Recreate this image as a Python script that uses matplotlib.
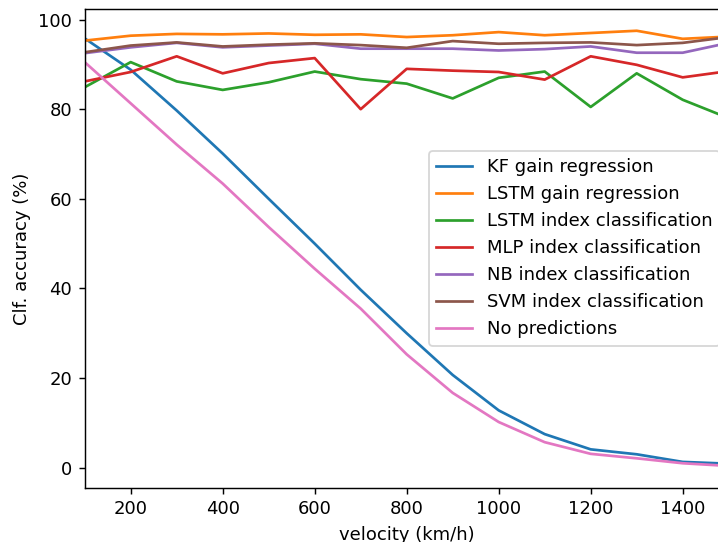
import matplotlib
matplotlib.use("Agg")
import matplotlib.pyplot as plt

velocity = [100, 200, 300, 400, 500, 600, 700, 800, 900, 1000, 1100, 1200, 1300, 1400, 1500]

kf_gain = [95.8, 88.8, 79.7, 70.1, 60.0, 50.0, 39.7, 30.0, 20.7, 12.8, 7.5, 4.1, 3.0, 1.3, 0.9]
lstm_gain = [95.3, 96.4, 96.8, 96.7, 96.9, 96.6, 96.7, 96.1, 96.5, 97.2, 96.5, 97.0, 97.5, 95.7, 96.2]
lstm_index = [84.9, 90.5, 86.2, 84.3, 86.0, 88.4, 86.7, 85.7, 82.4, 87.0, 88.4, 80.5, 88.0, 82.1, 78.0]
mlp_index = [86.2, 88.3, 91.8, 88.0, 90.3, 91.4, 80.0, 89.0, 88.6, 88.3, 86.6, 91.8, 89.9, 87.1, 88.5]
nb_index = [92.5, 93.8, 94.8, 93.8, 94.2, 94.6, 93.5, 93.5, 93.5, 93.1, 93.4, 94.0, 92.6, 92.6, 94.8]
svm_index = [92.7, 94.2, 94.9, 94.0, 94.4, 94.7, 94.3, 93.7, 95.2, 94.6, 94.8, 94.9, 94.3, 94.8, 96.1]
no_pred = [90.5, 81.3, 72.1, 63.4, 53.7, 44.4, 35.5, 25.3, 16.7, 10.2, 5.7, 3.1, 2.1, 1.0, 0.4]

series = [
    ("KF gain regression", kf_gain),
    ("LSTM gain regression", lstm_gain),
    ("LSTM index classification", lstm_index),
    ("MLP index classification", mlp_index),
    ("NB index classification", nb_index),
    ("SVM index classification", svm_index),
    ("No predictions", no_pred),
]

W, H, DPI = 718, 542, 130
fig = plt.figure(figsize=(W / DPI, H / DPI), dpi=DPI)
ax = fig.add_axes([84.7 / W, (H - 487.7) / H, 644 / W, 478.7 / H])

for label, vals in series:
    ax.plot(velocity, vals, label=label)

ax.set_xlim(100, 1500)
ax.set_xlabel("velocity (km/h)")
ax.set_ylabel("Clf. accuracy (%)")
ax.legend(loc="center right")

fig.savefig("out.png", dpi=DPI)
